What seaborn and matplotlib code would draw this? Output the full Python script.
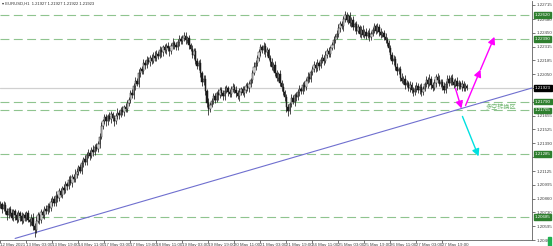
import numpy as np
import pandas as pd
import matplotlib
matplotlib.use("Agg")
import matplotlib.pyplot as plt
import seaborn as sns
from matplotlib.patches import Rectangle

# ---------------- data ----------------
title = "EURUSD,H1  1.21927 1.21927 1.21922 1.21923"
x_labels = ["12 May 2021", "13 May 03:00", "13 May 19:00", "14 May 11:00", "17 May 03:00",
            "17 May 19:00", "18 May 11:00", "19 May 03:00", "19 May 19:00", "20 May 11:00",
            "21 May 03:00", "21 May 19:00", "24 May 11:00", "25 May 03:00", "25 May 19:00",
            "26 May 11:00", "27 May 03:00", "27 May 19:00"]
x_label_bars = [16 * i for i in range(len(x_labels))]
y_ticks = [1.22715, 1.22580, 1.22450, 1.22315, 1.22185, 1.22050, 1.21920, 1.21785, 1.21655,
           1.21525, 1.21390, 1.21260, 1.21125, 1.20995, 1.20860, 1.20730, 1.20595, 1.20465]

BASE = 1.2          # prices below are points above 1.20000 (1 point = 0.00001)
first_open = 800
closes = [
    810, 760, 800, 740, 700, 760, 720, 680, 740, 700, 660, 720, 690, 650, 700, 680,
    720, 660, 640, 680, 600, 560, 650, 700, 660, 730, 700, 760, 740, 790, 770, 830,
    860, 820, 890, 870, 930, 900, 960, 940, 1000, 980, 1040, 1010, 1070, 1050, 1100, 1120,
    1160, 1130, 1200, 1240, 1210, 1280, 1300, 1270, 1330, 1310, 1360, 1340, 1380, 1450, 1560, 1600,
    1640, 1600, 1650, 1620, 1670, 1630, 1600, 1650, 1680, 1660, 1710, 1690, 1740, 1720, 1780, 1810,
    1870, 1850, 1940, 1990, 1960, 2060, 2100, 2080, 2160, 2140, 2190, 2170, 2210, 2180, 2230, 2210,
    2250, 2230, 2280, 2260, 2310, 2280, 2320, 2300, 2270, 2320, 2350, 2330, 2310, 2360, 2390, 2370,
    2400, 2420, 2380, 2400, 2330, 2290, 2240, 2270, 2180, 2130, 2160, 2060, 1980, 2010, 1890, 1780,
    1720, 1760, 1800, 1840, 1810, 1870, 1850, 1900, 1870, 1840, 1890, 1920, 1880, 1860, 1910, 1930,
    1900, 1870, 1840, 1880, 1910, 1870, 1900, 1940, 1920, 1960, 2000, 2060, 2120, 2160, 2210, 2260,
    2310, 2280, 2320, 2260, 2280, 2210, 2170, 2120, 2140, 2060, 2020, 2050, 1970, 1930, 1880, 1830,
    1740, 1700, 1770, 1820, 1790, 1850, 1830, 1880, 1910, 1890, 1950, 1930, 1990, 2030, 2010, 2070,
    2100, 2140, 2110, 2160, 2130, 2190, 2210, 2180, 2240, 2270, 2250, 2300, 2330, 2380, 2410, 2440,
    2490, 2530, 2510, 2580, 2620, 2570, 2610, 2540, 2570, 2500, 2530, 2470, 2500, 2440, 2480, 2430,
    2460, 2420, 2450, 2410, 2440, 2480, 2510, 2470, 2500, 2460, 2430, 2450, 2410, 2380, 2350, 2300,
    2240, 2180, 2200, 2120, 2080, 2100, 2020, 1990, 2010, 1950, 1970, 1920, 1950, 1900, 1880, 1910,
    1940, 1900, 1930, 1880, 1910, 1960, 2000, 1960, 2010, 1950, 1920, 1970, 2030, 2000, 1960, 1980,
    1940, 1900, 1960, 2010, 1970, 2020, 1980, 1950, 1990, 1940, 1970, 1930, 1960, 1920, 1940, 1923,
]
upper_wicks = [
    30, 20, 40, 25, 35, 20, 30, 45, 25, 20, 35, 30, 25, 40, 20, 30,
    25, 30, 20, 35, 40, 30, 45, 30, 25, 35, 20, 30, 40, 25, 30, 35,
    30, 25, 40, 20, 35, 30, 25, 40, 30, 20, 35, 45, 30, 25, 40, 30,
    25, 35, 30, 20, 40, 30, 35, 25, 30, 45, 20, 30, 35, 40, 30, 25,
    35, 30, 25, 40, 30, 20, 35, 30, 45, 25, 30, 40, 20, 35, 30, 25,
    30, 40, 25, 35, 30, 45, 20, 30, 35, 25, 40, 30, 25, 35, 30, 40,
    35, 25, 40, 30, 20, 35, 30, 40, 25, 30, 45, 20, 35, 30, 40, 25,
    30, 40, 35, 20, 30, 25, 40, 30, 35, 25, 30, 40, 20, 35, 30, 25,
    40, 30, 25, 35, 30, 20, 40, 30, 25, 35, 45, 30, 20, 35, 30, 40,
    25, 35, 30, 40, 20, 30, 35, 25, 40, 30, 20, 35, 45, 30, 25, 35,
    30, 25, 40, 35, 30, 20, 30, 40, 25, 35, 30, 20, 40, 30, 35, 25,
    35, 30, 20, 40, 30, 25, 35, 30, 40, 20, 30, 35, 25, 40, 30, 20,
    30, 40, 25, 35, 20, 30, 40, 25, 35, 30, 45, 20, 30, 35, 25, 40,
    40, 30, 35, 25, 40, 30, 20, 35, 30, 40, 25, 30, 35, 20, 30, 40,
    25, 35, 30, 40, 30, 20, 35, 25, 40, 30, 35, 20, 30, 40, 25, 30,
    30, 25, 40, 30, 35, 20, 30, 40, 25, 35, 30, 20, 40, 30, 25, 35,
    35, 30, 25, 40, 30, 20, 35, 30, 40, 25, 30, 35, 20, 30, 40, 25,
    30, 40, 25, 35, 30, 20, 35, 30, 25, 40, 30, 20, 35, 25, 30, 20,
]
lower_wicks = [
    25, 35, 20, 30, 40, 25, 30, 20, 35, 45, 30, 25, 40, 30, 20, 35,
    30, 25, 40, 30, 35, 70, 30, 25, 40, 30, 20, 35, 30, 25, 40, 30,
    35, 30, 25, 40, 30, 20, 35, 30, 25, 40, 30, 20, 35, 30, 25, 40,
    30, 20, 35, 40, 30, 25, 30, 35, 20, 40, 30, 25, 35, 30, 20, 30,
    25, 40, 30, 20, 35, 30, 40, 25, 30, 35, 20, 30, 40, 25, 30, 35,
    30, 25, 35, 40, 20, 30, 35, 25, 30, 40, 30, 20, 35, 30, 25, 30,
    35, 30, 20, 40, 30, 25, 35, 30, 40, 20, 30, 35, 25, 30, 40, 30,
    25, 30, 40, 30, 35, 20, 30, 40, 30, 25, 35, 30, 40, 30, 35, 45,
    60, 30, 25, 35, 30, 20, 40, 30, 25, 35, 30, 20, 35, 30, 25, 30,
    30, 35, 25, 40, 30, 20, 35, 30, 25, 40, 30, 35, 20, 30, 25, 35,
    30, 25, 35, 40, 30, 25, 35, 30, 40, 25, 30, 35, 30, 40, 25, 30,
    50, 45, 30, 35, 25, 40, 30, 20, 35, 30, 25, 40, 30, 20, 35, 30,
    30, 25, 40, 30, 35, 20, 30, 40, 25, 30, 35, 30, 20, 40, 30, 25,
    35, 30, 25, 40, 30, 20, 35, 30, 40, 25, 30, 35, 20, 30, 40, 25,
    30, 35, 25, 40, 30, 20, 35, 30, 25, 40, 30, 20, 35, 30, 25, 35,
    40, 30, 35, 25, 40, 30, 35, 20, 30, 40, 25, 30, 35, 30, 40, 25,
    30, 25, 40, 35, 30, 20, 30, 40, 25, 35, 30, 20, 40, 30, 25, 30,
    35, 30, 25, 40, 30, 20, 35, 30, 25, 40, 30, 20, 35, 25, 30, 20,
]

levels = [1.22620, 1.22390, 1.21790, 1.21705, 1.21285, 1.20685]
level_labels = ["1.22620", "1.22390", "1.21790", "1.21705", "1.21285", "1.20685"]
bid = 1.21923
trend_bars = [9, 327]
trend_prices = [1.2048, 1.2192]
magenta_arrows = [((280.0, 1.21915), (283.7, 1.21724)),
                  ((286.2, 1.21753), (295.4, 1.22096)),
                  ((295.4, 1.22096), (304.0, 1.22410))]
cyan_arrow = ((284.3, 1.21648), (294.2, 1.21266))
zone_text = "多空转换区"
zone_pos = (298.5, 1.21734)

# ---------------- candles table ----------------
c_pts = np.array(closes, dtype=float)
o_pts = np.concatenate([[first_open], c_pts[:-1]])
h_pts = np.maximum(o_pts, c_pts) + np.array(upper_wicks)
l_pts = np.minimum(o_pts, c_pts) - np.array(lower_wicks)
df = pd.DataFrame({"bar": np.arange(len(closes)),
                   "open": BASE + o_pts / 1e5, "high": BASE + h_pts / 1e5,
                   "low": BASE + l_pts / 1e5, "close": BASE + c_pts / 1e5})

# ---------------- figure ----------------
sns.set_theme(style="white")
NARROW = ["Liberation Sans Narrow", "Liberation Sans", "DejaVu Sans"]
plt.rcParams['font.family'] = NARROW
W, H = 553, 246
fig = plt.figure(figsize=(W / 100, H / 100), dpi=100)
ax = fig.add_axes([0 / W, (H - 240) / H, 532 / W, 239 / H])
ax.set_facecolor("white")
ax.set_xlim(-0.3, 327.1)
ax.set_ylim(1.20475, 1.22753)

# levels
for lv in levels:
    ax.axhline(lv, color="#8fc48f", lw=0.8, ls=(0, (8, 4)), zorder=1)
ax.axhline(bid, color="#d0d0d0", lw=0.9, zorder=1)

# trendline via seaborn
tl = pd.DataFrame({"bar": trend_bars, "price": trend_prices})
sns.lineplot(data=tl, x="bar", y="price", ax=ax, color="#6f6fcf", lw=0.8, zorder=2)

# candles
ax.vlines(df["bar"], df["low"], df["high"], color="#1a1a1a", lw=0.55, zorder=3)
up = df["close"] >= df["open"]
d_up, d_dn = df[up], df[~up]
ax.bar(d_up["bar"], d_up["close"] - d_up["open"], bottom=d_up["open"], width=0.8,
       color="white", edgecolor="#1a1a1a", lw=0.35, zorder=4)
ax.bar(d_dn["bar"], d_dn["close"] - d_dn["open"], bottom=d_dn["open"], width=0.8,
       color="#1a1a1a", edgecolor="#1a1a1a", lw=0.35, zorder=4)

# arrows
for (p0, p1) in magenta_arrows:
    ax.annotate("", xy=p1, xytext=p0,
                arrowprops=dict(arrowstyle="-|>,head_length=0.35,head_width=0.18", color="#ff00ff", lw=1.0,
                                shrinkA=0, shrinkB=0), zorder=5)
ax.annotate("", xy=cyan_arrow[1], xytext=cyan_arrow[0],
            arrowprops=dict(arrowstyle="-|>,head_length=0.35,head_width=0.18", color="#00e0e0", lw=1.0,
                            shrinkA=0, shrinkB=0), zorder=5)
ax.text(zone_pos[0], zone_pos[1], zone_text, color="#74b874", fontsize=4.4,
        family=["Noto Sans CJK SC", "DejaVu Sans"], ha="left", va="center", zorder=5)

# axes styling
for s in ["top", "left"]:
    ax.spines[s].set_visible(False)
for s in ["right", "bottom"]:
    ax.spines[s].set_color("#606060")
    ax.spines[s].set_linewidth(0.6)
ax.yaxis.tick_right()
ax.set_yticks(y_ticks)
ax.set_yticklabels([f"{v:.5f}" for v in y_ticks])
ax.set_xticks(x_label_bars)
ax.set_xticklabels(x_labels, ha="left")
ax.tick_params(axis="y", which="both", right=True, left=False, length=2, width=0.5, pad=1.2,
               labelsize=3.2, colors="#404040")
ax.tick_params(axis="x", which="both", bottom=True, length=2, width=0.5, pad=0.3,
               labelsize=3.2, colors="#404040")
ax.set_xlabel(""); ax.set_ylabel("")
ax.grid(False)

# price boxes (cover the tick labels, as in the terminal)
for lv, lab in zip(levels, level_labels):
    ax.annotate(lab, xy=(1.0, lv), xycoords=("axes fraction", "data"), xytext=(2.0, 0),
                textcoords="offset points", fontsize=3.2, color="white", va="center", ha="left",
                bbox=dict(boxstyle="square,pad=0.2", fc="#2f7f2f", ec="#2f7f2f"), zorder=6,
                annotation_clip=False)
ax.annotate(f"{bid:.5f}", xy=(1.0, bid), xycoords=("axes fraction", "data"), xytext=(2.0, 0),
            textcoords="offset points", fontsize=3.2, color="white", va="center", ha="left",
            bbox=dict(boxstyle="square,pad=0.2", fc="black", ec="black"), zorder=6,
            annotation_clip=False)

fig.text(2 / W, 1 - 4 / H, "▾ " + title, fontsize=3.0, color="#303030", va="center", ha="left",
         family=NARROW)
fig.patches.append(Rectangle((548 / W, 0), 3 / W, 9 / H, transform=fig.transFigure,
                             color="#1fb050", zorder=10))

fig.savefig("out.png", dpi=100, facecolor="white")
